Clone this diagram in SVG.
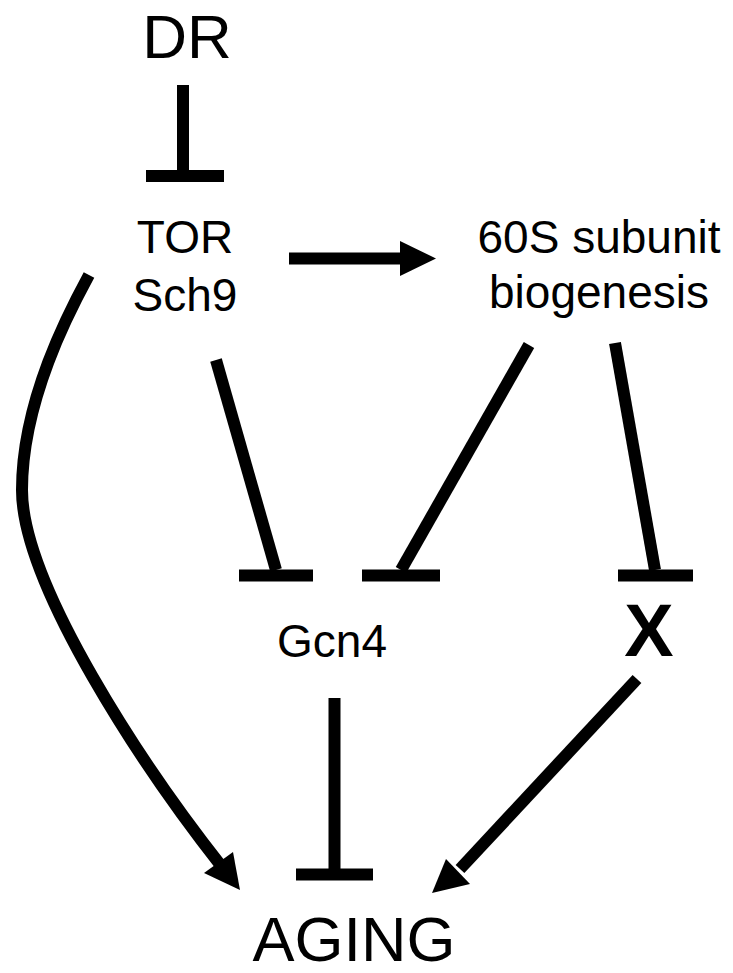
<svg xmlns="http://www.w3.org/2000/svg" width="733" height="973" viewBox="0 0 733 973">
<style>
.t{font-family:"Liberation Sans",Arial,sans-serif;fill:#000;text-anchor:middle}
.e{stroke:#000;stroke-width:12;fill:none;stroke-linecap:butt}
.h{fill:#000;stroke:none}
</style>
<rect width="733" height="973" fill="#fff"/>
<g id="node-dr"><text class="t" x="187" y="58" font-size="62">DR</text></g>
<g id="node-tor"><text class="t" x="185" y="253" font-size="46">TOR</text><text class="t" x="185" y="311" font-size="46">Sch9</text></g>
<g id="node-60s"><text class="t" x="599" y="253" font-size="46">60S subunit</text><text class="t" x="599" y="308" font-size="46">biogenesis</text></g>
<g id="node-gcn4"><text class="t" x="332" y="657" font-size="46">Gcn4</text></g>
<g id="node-x"><text class="t" x="649" y="656" font-size="74" font-weight="bold">X</text></g>
<g id="node-aging"><text class="t" x="354" y="961" font-size="63">AGING</text></g>
<g id="connectors">
<!-- DR -| TOR -->
<line class="e" x1="183" y1="85" x2="183" y2="170"/>
<line class="e" x1="146" y1="176" x2="224" y2="176"/>
<!-- TOR -> 60S -->
<line class="e" x1="289" y1="258.5" x2="404" y2="258.5"/>
<polygon class="h" points="400,241 436,258.5 400,276"/>
<!-- TOR -| Gcn4 -->
<line class="e" x1="216" y1="360" x2="276" y2="570"/>
<line class="e" x1="239" y1="575.5" x2="313" y2="575.5"/>
<!-- 60S -| Gcn4 -->
<line class="e" x1="529" y1="345" x2="401" y2="570"/>
<line class="e" x1="362" y1="575.5" x2="440" y2="575.5"/>
<!-- 60S -| X -->
<line class="e" x1="615" y1="343" x2="655" y2="570"/>
<line class="e" x1="618" y1="575.5" x2="693" y2="575.5"/>
<!-- Gcn4 -| AGING -->
<line class="e" x1="334.5" y1="698" x2="334.5" y2="869"/>
<line class="e" x1="296" y1="874.5" x2="373" y2="874.5"/>
<!-- X -> AGING -->
<line class="e" x1="637" y1="679" x2="460" y2="869"/>
<polygon class="h" points="432,893 446,859 470,884"/>
<!-- TOR -> AGING (curve) -->
<path class="e" d="M 89 275 C 70 310, 22 400, 22 490 C 22 585, 144 768, 222 867"/>
<polygon class="h" points="240,890 204,873 233,852"/>
</g>
</svg>
